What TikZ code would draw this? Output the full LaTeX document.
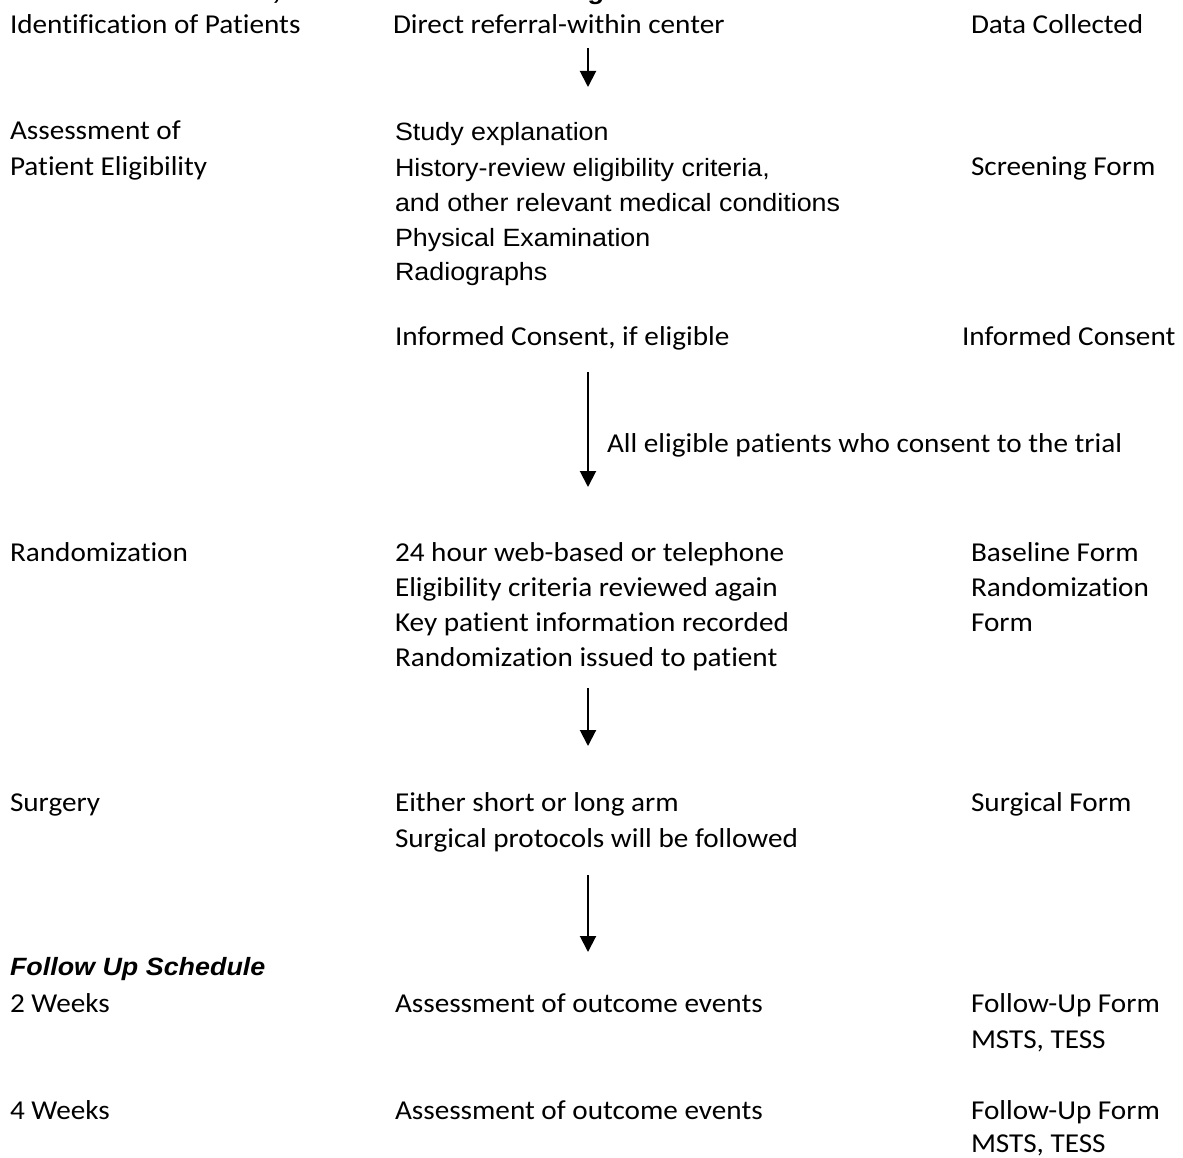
\documentclass[tikz,border=0pt]{standalone}
\usepackage{fontspec}
\setmainfont{Carlito}[FakeStretch=1.07,Ligatures=NoCommon]
\newfontfamily\arialf{Liberation Sans}[FakeStretch=1.075]
\usetikzlibrary{arrows.meta}
\begin{document}
\begin{tikzpicture}[x=1pt,y=-1pt,
 txt/.style={anchor=base west,inner sep=0pt,outer sep=0pt,font=\fontsize{27.3}{33}\selectfont},
 atxt/.style={anchor=base west,inner sep=0pt,outer sep=0pt,font=\arialf\fontsize{25}{30}\selectfont},
 btxt/.style={anchor=base west,inner sep=0pt,outer sep=0pt,font=\arialf\bfseries\itshape\fontsize{25}{30}\selectfont},
 flow/.style={line width=2pt,-{Triangle[width=16pt,length=16pt]}}]
\useasboundingbox (0,0) rectangle (1183,1158);
% title (cut off at the top edge, as in the reference)
\node[btxt] (title) at (10,-0.5) {Patient Identification, Randomization and Surgical Intervention};
% row 1
\node[txt] (l1) at (10,34) {Identification of Patients};
\node[txt] (m1) at (393,34) {Direct referral-within center};
\node[txt] (r1) at (971,34) {Data Collected};
% row 2
\node[txt] (l2a) at (10,140) {Assessment of};
\node[txt] (l2b) at (10,176) {Patient Eligibility};
\node[atxt] (m2a) at (395,140.5) {Study explanation};
\node[atxt] (m2b) at (395,176.5) {History-review eligibility criteria,};
\node[atxt] (m2c) at (395,212) {and other relevant medical conditions};
\node[atxt] (m2d) at (395,247) {Physical Examination};
\node[atxt] (m2e) at (395,280.5) {Radiographs};
\node[txt] (r2) at (971,176) {Screening Form};
\node[txt] (m2f) at (395,345) {Informed Consent, if eligible};
\node[txt] (r2b) at (962,345) {Informed Consent};
\node[txt] (lab) at (607,452.5) {All eligible patients who consent to the trial};
% row 3
\node[txt] (l3) at (10,561.5) {Randomization};
\node[txt] (m3a) at (395,561.5) {24 hour web-based or telephone};
\node[txt] (m3b) at (395,596.5) {Eligibility criteria reviewed again};
\node[txt] (m3c) at (395,631.5) {Key patient information recorded};
\node[txt] (m3d) at (395,666.5) {Randomization issued to patient};
\node[txt] (r3a) at (971,561.5) {Baseline Form};
\node[txt] (r3b) at (971,596.5) {Randomization};
\node[txt] (r3c) at (971,631.5) {Form};
% row 4
\node[txt] (l4) at (10,811) {Surgery};
\node[txt] (m4a) at (395,811) {Either short or long arm};
\node[txt] (m4b) at (395,847) {Surgical protocols will be followed};
\node[txt] (r4) at (971,811) {Surgical Form};
% follow up
\node[btxt] (fu) at (10,975.5) {Follow Up Schedule};
\node[txt] (l5) at (10,1012) {2 Weeks};
\node[txt] (m5) at (395,1012) {Assessment of outcome events};
\node[txt] (r5a) at (971,1012) {Follow-Up Form};
\node[txt] (r5b) at (971,1048) {MSTS, TESS};
\node[txt] (l6) at (10,1119) {4 Weeks};
\node[txt] (m6) at (395,1119) {Assessment of outcome events};
\node[txt] (r6a) at (971,1119) {Follow-Up Form};
\node[txt] (r6b) at (971,1152.5) {MSTS, TESS};
% arrows
\coordinate (a1s) at (588,48);  \coordinate (a1e) at (588,87);
\coordinate (a2s) at (588,372); \coordinate (a2e) at (588,487);
\coordinate (a3s) at (588,688); \coordinate (a3e) at (588,746);
\coordinate (a4s) at (588,875); \coordinate (a4e) at (588,952);
\draw[flow] (a1s) -- (a1e);
\draw[flow] (a2s) -- (a2e);
\draw[flow] (a3s) -- (a3e);
\draw[flow] (a4s) -- (a4e);
\end{tikzpicture}
\end{document}
